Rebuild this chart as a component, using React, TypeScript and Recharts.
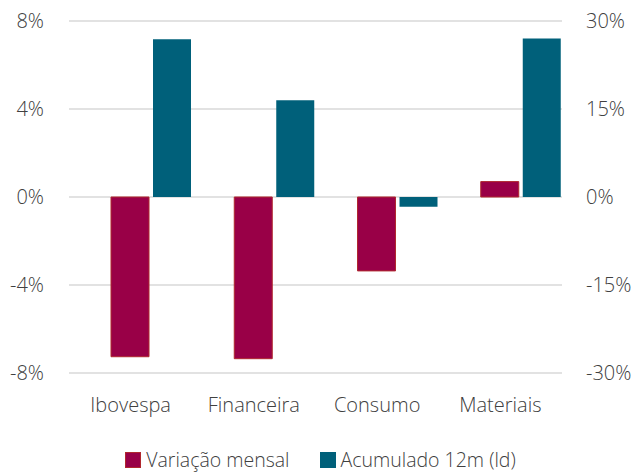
import { BarChart, Bar, XAxis, YAxis, CartesianGrid, Legend } from 'recharts'

const categories = ['Ibovespa', 'Financeira', 'Consumo', 'Materiais']
const variacaoMensal = [-7.26, -7.35, -3.36, 0.7]
const acumulado12m = [26.9, 16.5, -1.65, 27.0]
const leftTicks = [-8, -4, 0, 4, 8]
const rightTicks = [-30, -15, 0, 15, 30]

const data = categories.map((name, i) => ({
  name,
  mensal: variacaoMensal[i],
  acumulado: acumulado12m[i],
}))

const FONT = '"Open Sans", "Noto Sans", sans-serif'
const tickStyle = { fill: '#404040', fontSize: 20, fontFamily: FONT, fontWeight: 300 }

const legendItems = [
  { label: 'Variação mensal', color: '#990047', border: '#b0282e' },
  { label: 'Acumulado 12m (ld)', color: '#00607a', border: '#00607a' },
]

function ChartLegend() {
  return (
    <div
      style={{
        display: 'flex',
        justifyContent: 'center',
        gap: 30,
        fontFamily: FONT,
        fontWeight: 300,
        fontSize: 19.5,
        color: '#404040',
        paddingTop: 13,
        paddingLeft: 6,
      }}
    >
      {legendItems.map((it) => (
        <div key={it.label} style={{ display: 'flex', alignItems: 'center', gap: 5 }}>
          <span
            style={{
              width: 14,
              height: 14,
              background: it.color,
              border: `1px solid ${it.border}`,
              display: 'inline-block',
            }}
          />
          <span>{it.label}</span>
        </div>
      ))}
    </div>
  )
}

export default function App() {
  return (
    <div style={{ position: 'absolute', left: 0, top: 0, background: '#fff' }}>
      <BarChart
        width={635}
        height={472}
        data={data}
        margin={{ top: 21, right: 0, bottom: 0, left: 0 }}
        barGap={4}
        barCategoryGap={0}
      >
        <CartesianGrid yAxisId="left" horizontal vertical={false} stroke="#d9d9d9" strokeWidth={1.5} />
        <XAxis
          dataKey="name"
          axisLine={false}
          tickLine={false}
          tickSize={0}
          tickMargin={25}
          height={60}
          tick={tickStyle}
          interval={0}
        />
        <YAxis
          yAxisId="left"
          domain={[-8, 8]}
          ticks={leftTicks}
          width={69}
          axisLine={false}
          tickLine={false}
          tickSize={0}
          tickMargin={25}
          tick={tickStyle}
          tickFormatter={(v: number) => `${v}%`}
        />
        <YAxis
          yAxisId="right"
          orientation="right"
          domain={[-30, 30]}
          ticks={rightTicks}
          width={73}
          axisLine={false}
          tickLine={false}
          tickSize={0}
          tickMargin={24}
          tick={{ ...tickStyle, textAnchor: 'start' }}
          tickFormatter={(v: number) => `${v}%`}
        />
        <Legend verticalAlign="bottom" height={39} wrapperStyle={{ bottom: 0 }} content={() => <ChartLegend />} />
        {/* empty spacer series: pushes the pair of bars to the right of each band */}
        <Bar yAxisId="left" dataKey="spacer" legendType="none" fill="none" isAnimationActive={false} />
        <Bar
          yAxisId="left"
          dataKey="mensal"
          name="Variação mensal"
          fill="#990047"
          stroke="#b0282e"
          strokeWidth={1}
          isAnimationActive={false}
        />
        <Bar
          yAxisId="right"
          dataKey="acumulado"
          name="Acumulado 12m (ld)"
          fill="#00607a"
          isAnimationActive={false}
        />
      </BarChart>
    </div>
  )
}
